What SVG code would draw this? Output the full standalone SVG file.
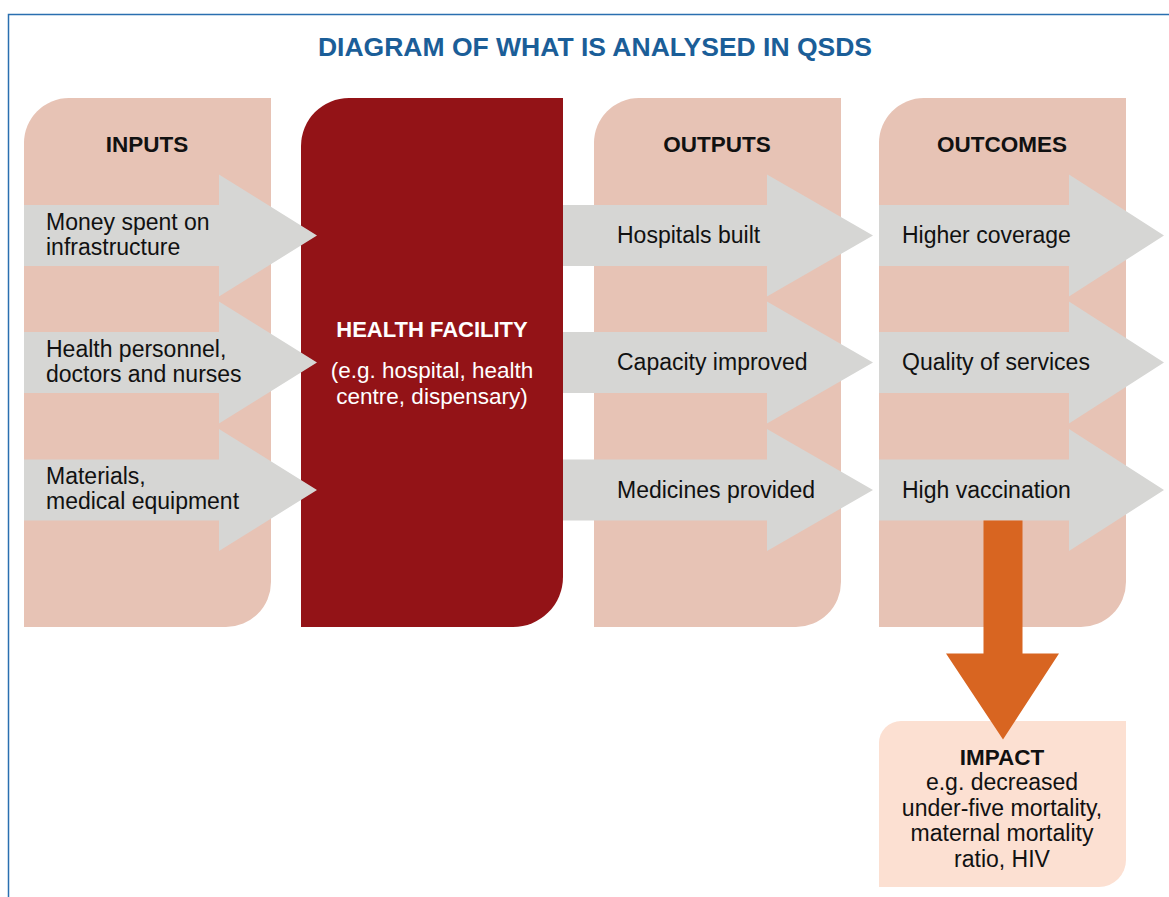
<svg xmlns="http://www.w3.org/2000/svg" width="1169" height="897" viewBox="0 0 1169 897">
<style>
.panel{fill:#e7c3b5}
.arrow{fill:#d6d6d4}
.lbl{font-family:"Liberation Sans",Arial,sans-serif;font-size:23px;fill:#111}
.hdr{font-family:"Liberation Sans",Arial,sans-serif;font-size:22.5px;font-weight:bold;fill:#111;text-anchor:middle}
.wt{font-family:"Liberation Sans",Arial,sans-serif;fill:#fff;text-anchor:middle}
</style>
<rect width="1169" height="897" fill="#fff"/>
<path d="M8.5 897 V14.5 H1169" fill="none" stroke="#2a6fb0" stroke-width="1.5"/>
<text x="595" y="56" font-family="Liberation Sans, Arial, sans-serif" font-size="26.5" font-weight="bold" fill="#1b5e98" text-anchor="middle">DIAGRAM OF WHAT IS ANALYSED IN QSDS</text>

<g id="inputs">
<path class="panel" d="M24 143 A45 45 0 0 1 69 98 H271 V582 A45 45 0 0 1 226 627 H24 Z"/>
<text class="hdr" x="147" y="152">INPUTS</text>
</g>
<g id="health-facility">
<path fill="#931317" d="M301 146 A48 48 0 0 1 349 98 H563 V577 A50 50 0 0 1 513 627 H301 Z"/>
<text class="wt" x="432" y="337" font-size="22" font-weight="bold">HEALTH FACILITY</text>
<text class="wt" x="432" y="378" font-size="22.5">(e.g. hospital, health</text>
<text class="wt" x="432" y="404" font-size="22.5">centre, dispensary)</text>
</g>
<g id="outputs">
<path class="panel" d="M594 143 A45 45 0 0 1 639 98 H841 V582 A45 45 0 0 1 796 627 H594 Z"/>
<text class="hdr" x="717" y="152">OUTPUTS</text>
</g>
<g id="outcomes">
<path class="panel" d="M879 143 A45 45 0 0 1 924 98 H1126 V582 A45 45 0 0 1 1081 627 H879 Z"/>
<text class="hdr" x="1002" y="152">OUTCOMES</text>
</g>
<g id="impact">
<path fill="#fce0d2" d="M879 743 A22 22 0 0 1 901 721 H1126 V860 A27 27 0 0 1 1099 887 H879 Z"/>
<text class="hdr" x="1002" y="765">IMPACT</text>
<text class="lbl" x="1002" y="790" text-anchor="middle">e.g. decreased</text>
<text class="lbl" x="1002" y="815.5" text-anchor="middle">under-five mortality,</text>
<text class="lbl" x="1002" y="841" text-anchor="middle">maternal mortality</text>
<text class="lbl" x="1002" y="866.5" text-anchor="middle">ratio, HIV</text>
</g>

<g id="connectors">
<polygon class="arrow" points="24,205 219,205 219,174.5 317,235.5 219,296.5 219,266 24,266"/>
<polygon class="arrow" points="24,332 219,332 219,301.5 317,362.5 219,423.5 219,393 24,393"/>
<polygon class="arrow" points="24,459.5 219,459.5 219,429 317,490 219,551 219,520.5 24,520.5"/>
<polygon class="arrow" points="563,205 767,205 767,174.5 873,235.5 767,296.5 767,266 563,266"/>
<polygon class="arrow" points="563,332 767,332 767,301.5 873,362.5 767,423.5 767,393 563,393"/>
<polygon class="arrow" points="563,459.5 767,459.5 767,429 873,490 767,551 767,520.5 563,520.5"/>
<polygon class="arrow" points="879,205 1069,205 1069,174.5 1164,235.5 1069,296.5 1069,266 879,266"/>
<polygon class="arrow" points="879,332 1069,332 1069,301.5 1164,362.5 1069,423.5 1069,393 879,393"/>
<polygon class="arrow" points="879,459.5 1069,459.5 1069,429 1164,490 1069,551 1069,520.5 879,520.5"/>
<polygon fill="#d86521" points="983.5,520.5 1022.5,520.5 1022.5,653.5 1059,653.5 1003,739.5 946,653.5 983.5,653.5"/>
</g>

<g id="labels">
<text class="lbl" x="46" y="230">Money spent on</text>
<text class="lbl" x="46" y="255">infrastructure</text>
<text class="lbl" x="46" y="357">Health personnel,</text>
<text class="lbl" x="46" y="382">doctors and nurses</text>
<text class="lbl" x="46" y="484">Materials,</text>
<text class="lbl" x="46" y="509">medical equipment</text>
<text class="lbl" x="617" y="243">Hospitals built</text>
<text class="lbl" x="617" y="370">Capacity improved</text>
<text class="lbl" x="617" y="497.5">Medicines provided</text>
<text class="lbl" x="902" y="243">Higher coverage</text>
<text class="lbl" x="902" y="370">Quality of services</text>
<text class="lbl" x="902" y="497.5">High vaccination</text>
</g>
</svg>
